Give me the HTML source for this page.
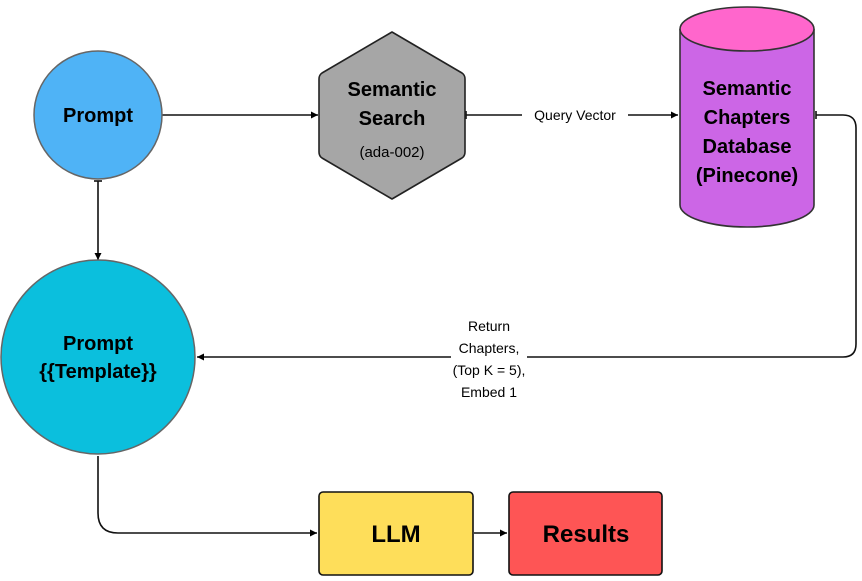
<!DOCTYPE html>
<html><head><style>
body{margin:0;background:#fff;}
svg text{font-family:"Liberation Sans",sans-serif;}
</style></head><body>
<svg width="862" height="576" viewBox="0 0 862 576" xmlns="http://www.w3.org/2000/svg">
<defs>
<marker id="a" markerWidth="8" markerHeight="8" refX="7" refY="4" orient="auto" markerUnits="userSpaceOnUse">
<path d="M0,0.5 L7,4 L0,7.5 Z" fill="#000"/></marker>
</defs>
<g stroke="#111" stroke-width="1.6" fill="none">
<line x1="162" y1="115" x2="318" y2="115" marker-end="url(#a)"/>
<line x1="466" y1="115" x2="522" y2="115"/>
<line x1="628" y1="115" x2="678" y2="115" marker-end="url(#a)"/>
<path d="M816,115 H843 Q856,115 856,128 V344 Q856,357 843,357 H527"/>
<line x1="451" y1="357" x2="197" y2="357" marker-end="url(#a)"/>
<line x1="98" y1="181" x2="98" y2="260" marker-end="url(#a)"/>
<path d="M98,456 V513 Q98,533 118,533 H317" marker-end="url(#a)"/>
<line x1="474" y1="533" x2="507" y2="533" marker-end="url(#a)"/>
<line x1="466" y1="111" x2="466" y2="119"/>
<line x1="816" y1="111" x2="816" y2="119"/>
<line x1="94" y1="181" x2="102" y2="181"/>
</g>
<circle cx="98" cy="115" r="64" fill="#4fb3f6" stroke="#666" stroke-width="1.5"/>
<text x="98" y="122" text-anchor="middle" font-size="20" font-weight="bold">Prompt</text>
<path d="M392,32 L462,73 Q465,75 465,79 L465,152 Q465,156 462,158 L392,199 L322,158 Q319,156 319,152 L319,79 Q319,75 322,73 Z" fill="#a6a6a6" stroke="#222" stroke-width="1.6" stroke-linejoin="round"/>
<text x="392" y="96" text-anchor="middle" font-size="20" font-weight="bold">Semantic</text>
<text x="392" y="125" text-anchor="middle" font-size="20" font-weight="bold">Search</text>
<text x="392" y="157" text-anchor="middle" font-size="15">(ada-002)</text>
<text x="575" y="120" text-anchor="middle" font-size="14">Query Vector</text>
<path d="M680,29 V205 A67,22 0 0 0 814,205 V29" fill="#cc66e6" stroke="#333" stroke-width="1.6"/>
<ellipse cx="747" cy="29" rx="67" ry="22" fill="#ff66cc" stroke="#333" stroke-width="1.6"/>
<g font-size="20" font-weight="bold" text-anchor="middle">
<text x="747" y="95">Semantic</text>
<text x="747" y="124">Chapters</text>
<text x="747" y="153">Database</text>
<text x="747" y="182">(Pinecone)</text>
</g>
<g font-size="14" text-anchor="middle">
<text x="489" y="331">Return</text>
<text x="489" y="353">Chapters,</text>
<text x="489" y="375">(Top K = 5),</text>
<text x="489" y="397">Embed 1</text>
</g>
<circle cx="98" cy="357" r="97" fill="#0bbfdd" stroke="#666" stroke-width="1.5"/>
<text x="98" y="350" text-anchor="middle" font-size="20" font-weight="bold">Prompt</text>
<text x="98" y="378" text-anchor="middle" font-size="20" font-weight="bold">{{Template}}</text>
<rect x="319" y="492" width="154" height="83" rx="4" fill="#fede5a" stroke="#111" stroke-width="1.6"/>
<text x="396" y="542" text-anchor="middle" font-size="24" font-weight="bold">LLM</text>
<rect x="509" y="492" width="153" height="83" rx="4" fill="#fe5555" stroke="#111" stroke-width="1.6"/>
<text x="586" y="542" text-anchor="middle" font-size="24" font-weight="bold">Results</text>
</svg>
</body></html>
